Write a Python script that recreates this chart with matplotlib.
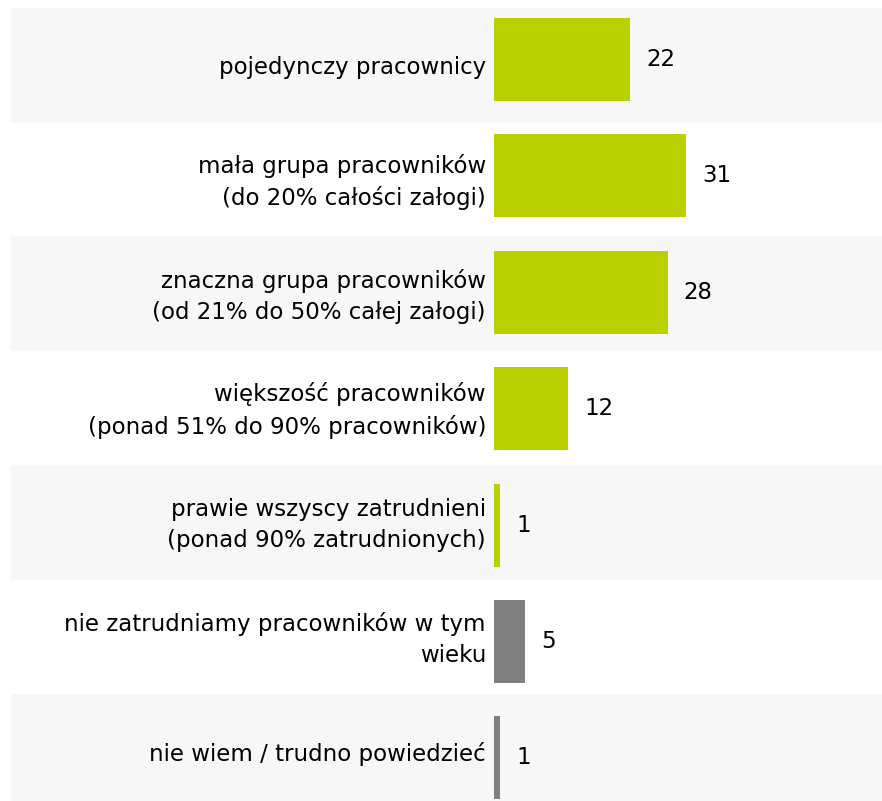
import matplotlib
matplotlib.use("Agg")
import matplotlib.pyplot as plt

categories = [
    "pojedynczy pracownicy",
    "mała grupa pracowników\n(do 20% całości załogi)",
    "znaczna grupa pracowników\n(od 21% do 50% całej załogi)",
    "większość pracowników\n(ponad 51% do 90% pracowników)",
    "prawie wszyscy zatrudnieni\n(ponad 90% zatrudnionych)",
    "nie zatrudniamy pracowników w tym\nwieku",
    "nie wiem / trudno powiedzieć",
]
values = [22, 31, 28, 12, 1, 5, 1]
colors = ["#bad000"] * 5 + ["#808080"] * 2

W, H = 882, 801
fig = plt.figure(figsize=(W / 100, H / 100), dpi=100)

# background bands and category labels (pixel-based layout axes)
bg = fig.add_axes([0, 0, 1, 1])
bg.set_xlim(0, W)
bg.set_ylim(H, 0)
bg.axis("off")
band_left = 11
row_top0, row_pitch = 7.7, 114.3
for k, label in enumerate(categories):
    top = row_top0 + k * row_pitch
    if k % 2 == 0:
        bg.fill_between([band_left, W], top, top + 115, color="#f7f7f7", lw=0)
    bg.text(486, top + row_pitch / 2 + 3, label, ha="right", va="center",
            fontsize=16.5, linespacing=1.45, color="black")

# main axes with bars
x0 = 494
ax = fig.add_axes([x0 / W, 0, 1 - x0 / W, 1])
ax.patch.set_alpha(0)
px_per_unit = 6.2
ax.set_xlim(0, (W - x0) / px_per_unit)
pitch = 116.4
c0 = 59.5
ax.set_ylim((H - c0) / pitch, -c0 / pitch)
ypos = list(range(len(categories)))
ax.barh(ypos, values, height=83 / pitch, color=colors, lw=0)
for y, v in zip(ypos, values):
    ax.annotate(str(v), (v, y), xytext=(11.5, 0), textcoords="offset points",
                ha="left", va="center", fontsize=16.5, color="black")

ax.set_yticks([])
ax.set_xticks([])
for s in ax.spines.values():
    s.set_visible(False)

fig.savefig("out.png", dpi=100)
